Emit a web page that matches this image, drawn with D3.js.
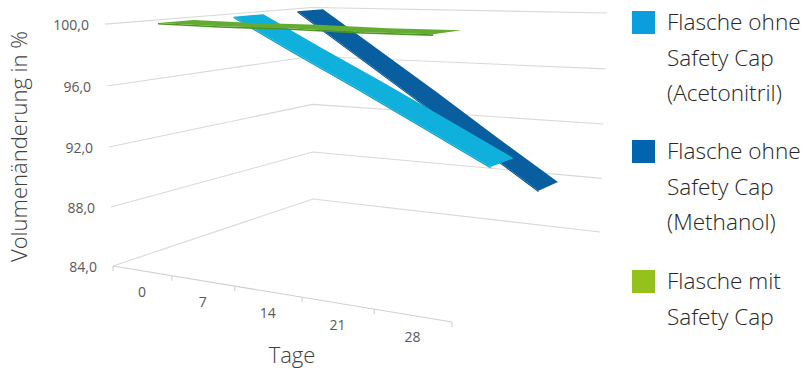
<!DOCTYPE html>
<html>
<head>
<meta charset="utf-8">
<script src="https://cdn.jsdelivr.net/npm/d3@7"></script>
<style>
  body { margin: 0; background: #fff; }
  svg { display: block; }
  text { font-family: "Open Sans", "Noto Sans", sans-serif; }
  .light { font-weight: 300; }
</style>
</head>
<body>
<svg id="chart" width="811" height="369"></svg>
<script>
// ---- data ----
const days = ["0", "7", "14", "21", "28"];
const valueTicks = [84, 88, 92, 96, 100];
const seriesKeys = ["acetonitril", "methanol", "safetyCap"];
const seriesLabels = [
  ["Flasche ohne", "Safety Cap", "(Acetonitril)"],
  ["Flasche ohne", "Safety Cap", "(Methanol)"],
  ["Flasche mit", "Safety Cap"]
];
const acetonitril = [100.0, 97.7, 95.5, 93.2, 90.9];
const methanol    = [100.0, 97.0, 94.0, 90.9, 87.9];
const safetyCap   = [100.0, 99.9, 99.9, 99.8, 99.8];
// depth order of the ribbons, front to back
const depthOrder = ["safetyCap", "acetonitril", "methanol"];

// ---- styles ----
const ribbonColor = { acetonitril: "#0FB0DC", methanol: "#085E9F", safetyCap: "#62AC32" };
const ribbonSide  = { acetonitril: "#0C9FCA", methanol: "#07528C", safetyCap: "#4A9425" };
const legendColor = { acetonitril: "#0A9EDF", methanol: "#0065AE", safetyCap: "#95C11F" };

const values = { acetonitril, methanol, safetyCap };
const svg = d3.select("#chart");

// ---- 3D perspective frame: floor corners on screen, vertical vanishing point ----
const FL = [113, 266], FR = [452, 322], BL = [313, 199], BR = [600, 232];
const frontHeight = 242;          // screen length of the full value range at the front-left edge
const vanish = [358, 7696];       // vanishing point of vertical edges

// square -> quad homography for the floor plane (u along days, w along depth)
const sx = FL[0] - FR[0] + BR[0] - BL[0], sy = FL[1] - FR[1] + BR[1] - BL[1];
const dx1 = FR[0] - BR[0], dy1 = FR[1] - BR[1], dx2 = BL[0] - BR[0], dy2 = BL[1] - BR[1];
const det = dx1 * dy2 - dx2 * dy1;
const g = (sx * dy2 - sy * dx2) / det;
const h = (dx1 * sy - dy1 * sx) / det;
const A = FR[0] - FL[0] + g * FR[0], B = BL[0] - FL[0] + h * BL[0], C = FL[0];
const Dd = FR[1] - FL[1] + g * FR[1], E = BL[1] - FL[1] + h * BL[1], F = FL[1];

function project(u, w, s) {
  const den = g * u + h * w + 1;
  const px = (A * u + B * w + C) / den, py = (Dd * u + E * w + F) / den;
  const H = frontHeight / den;
  const vx = px - vanish[0], vy = py - vanish[1];
  const dist = Math.hypot(vx, vy);
  const a = H * dist / (dist + H);
  const d = a * s / (1 - a * s / dist);
  return [px + vx / dist * d, py + vy / dist * d];
}

// ---- scales ----
const xBand = d3.scaleBand().domain(days).range([0, 1]);
const zBand = d3.scaleBand().domain(depthOrder).range([0, 1]);
const yLin = d3.scaleLinear().domain([84, 100]).range([0, 1]);
const ribbonDepth = 0.15;
const uMid = d => xBand(d) + xBand.bandwidth() / 2;

const line = d3.line();

// ---- walls: gridlines on side and back wall ----
const grid = svg.append("g").attr("fill", "none").attr("stroke", "#D9D9D9").attr("stroke-width", 1.1);
valueTicks.forEach(v => {
  const s = yLin(v);
  grid.append("path").attr("d", line([project(0, 0, s), project(0, 1, s), project(1, 1, s)]));
});

// ---- category axis on the front floor edge ----
const axis = svg.append("g").attr("fill", "none").attr("stroke", "#D0D0D0").attr("stroke-width", 1.1);
axis.append("path").attr("d", line([project(0, 0, 0), project(1, 0, 0)]));
const bounds = days.map(d => xBand(d)).concat([1]);
bounds.forEach(u => {
  const p = project(u, 0, 0);
  axis.append("path").attr("d", line([p, [p[0], p[1] + 5]]));
});

// value labels
svg.append("g").selectAll("text").data(valueTicks).join("text")
  .attr("x", v => project(0, 0, yLin(v))[0] - 16)
  .attr("y", v => project(0, 0, yLin(v))[1] + 0.5)
  .attr("text-anchor", "end").attr("dominant-baseline", "central")
  .attr("font-size", 14).attr("fill", "#595959")
  .text(v => d3.format(".1f")(v).replace(".", ","));

// category labels
svg.append("g").selectAll("text").data(days).join("text")
  .attr("x", d => project(uMid(d), 0, 0)[0])
  .attr("y", d => project(uMid(d), 0, 0)[1] + 21)
  .attr("text-anchor", "middle").attr("dominant-baseline", "central")
  .attr("font-size", 14).attr("fill", "#595959")
  .text(d => d);

// ---- ribbons, drawn back to front ----
const ribbons = svg.append("g");
depthOrder.slice().reverse().forEach(key => {
  const wc = zBand(key) + zBand.bandwidth() / 2;
  const w1 = wc - ribbonDepth / 2, w2 = wc + ribbonDepth / 2;
  const vals = values[key];
  const front = days.map((d, i) => project(uMid(d), w1, yLin(vals[i])));
  const back = days.map((d, i) => project(uMid(d), w2, yLin(vals[i])));
  const frontLow = days.map((d, i) => project(uMid(d), w1, yLin(vals[i]) - 0.006));
  // thin front face
  ribbons.append("path")
    .attr("d", line(front.concat(frontLow.slice().reverse())) + "Z")
    .attr("fill", ribbonSide[key]);
  // top face
  ribbons.append("path")
    .attr("d", line(front.concat(back.slice().reverse())) + "Z")
    .attr("fill", ribbonColor[key]);
});

// ---- axis titles ----
svg.append("text").attr("class", "light")
  .attr("transform", "translate(27,146.5) rotate(-90)")
  .attr("text-anchor", "middle").attr("font-size", 22).attr("fill", "#404040")
  .text("Volumenänderung in %");
svg.append("text").attr("class", "light")
  .attr("x", 292).attr("y", 363)
  .attr("text-anchor", "middle").attr("font-size", 22).attr("fill", "#404040")
  .text("Tage");

// ---- legend ----
const legendTops = [11, 140, 270];
const legend = svg.append("g");
seriesKeys.forEach((key, i) => {
  const top = legendTops[i];
  legend.append("rect").attr("x", 632).attr("y", top).attr("width", 23).attr("height", 23)
    .attr("fill", legendColor[key]);
  const t = legend.append("text").attr("class", "light").attr("font-size", 22.6).attr("fill", "#262626");
  seriesLabels[i].forEach((ln, j) => {
    t.append("tspan").attr("x", 667).attr("y", top + 19 + j * 35.5).text(ln);
  });
});
</script>
</body>
</html>
